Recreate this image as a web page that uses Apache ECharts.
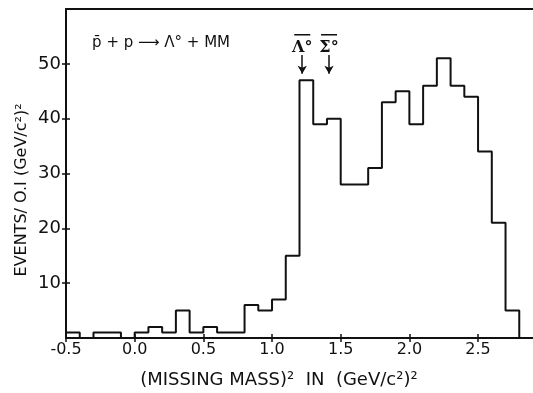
<!DOCTYPE html>
<html>
<head>
<meta charset="utf-8">
<script src="https://cdn.jsdelivr.net/npm/echarts@6/dist/echarts.min.js"></script>
<style>
html,body{margin:0;padding:0;background:#fff;}
#c{width:533px;height:393px;}
</style>
</head>
<body>
<div id="c"></div>
<script>
// ---- data ----
const binWidth = 0.1;
const binStart = [-0.5,-0.4,-0.3,-0.2,-0.1,0.0,0.1,0.2,0.3,0.4,0.5,0.6,0.7,0.8,0.9,1.0,1.1,1.2,1.3,1.4,1.5,1.6,1.7,1.8,1.9,2.0,2.1,2.2,2.3,2.4,2.5,2.6,2.7];
const counts   = [1,0,1,1,0,1,2,1,5,1,2,1,1,6,5,7,15,47,39,40,28,28,31,43,45,39,46,51,46,44,34,21,5];
const xTicks = [-0.5,0.0,0.5,1.0,1.5,2.0,2.5];
const yTicks = [10,20,30,40,50];
const markerNames = ['\u039b\u00b0','\u03a3\u00b0'];
const markerX = [1.22,1.415];

// ---- build ----
const stepData = [[binStart[0],0]];
binStart.forEach((x,i)=>stepData.push([x,counts[i]]));
stepData.push([+(binStart[binStart.length-1]+binWidth).toFixed(2),0]);

const chart = echarts.init(document.getElementById('c'), null, {renderer:'canvas'});
const FONT = 'DejaVu Sans';
const xCommon = {type:'value', min:-0.5, max:2.9, splitLine:{show:false}};
const yCommon = {type:'value', min:0, max:60, interval:10, splitLine:{show:false}};
const tickStyle = {color:'#111', width:1.5};

const option = {
  backgroundColor:'#fff',
  animation:false,
  grid:{left:66, top:9, right:0, bottom:55, show:false},
  xAxis:[
    Object.assign({}, xCommon, {
      position:'bottom',
      axisLine:{show:true, onZero:false, lineStyle:{color:'#111', width:2}},
      axisTick:{show:true, length:4, customValues:xTicks, lineStyle:tickStyle},
      axisLabel:{show:true, margin:4, color:'#111', fontFamily:FONT, fontSize:16,
        customValues:xTicks, formatter:v=>v.toFixed(1)}
    }),
    Object.assign({}, xCommon, {
      position:'bottom',
      axisLine:{show:false, onZero:false},
      axisTick:{show:true, inside:true, length:4, customValues:xTicks, lineStyle:tickStyle},
      axisLabel:{show:false}
    }),
    Object.assign({}, xCommon, {
      position:'top',
      axisLine:{show:true, onZero:false, lineStyle:{color:'#111', width:2}},
      axisTick:{show:false},
      axisLabel:{show:false}
    })
  ],
  yAxis:[
    Object.assign({}, yCommon, {
      position:'left',
      axisLine:{show:true, onZero:false, lineStyle:{color:'#111', width:2}},
      axisTick:{show:true, length:4, customValues:yTicks, lineStyle:tickStyle},
      axisLabel:{show:true, margin:5, color:'#111', fontFamily:FONT, fontSize:18,
        customValues:yTicks, formatter:v=>String(v)}
    }),
    Object.assign({}, yCommon, {
      position:'left',
      axisLine:{show:false, onZero:false},
      axisTick:{show:true, inside:true, length:4, customValues:yTicks, lineStyle:tickStyle},
      axisLabel:{show:false}
    })
  ],
  series:[{
    type:'line',
    xAxisIndex:0, yAxisIndex:0,
    step:'end',
    data:stepData,
    showSymbol:false,
    symbol:'none',
    lineStyle:{color:'#111', width:2},
    markLine:{
      silent:true,
      symbol:['none','arrow'],
      symbolSize:[7,8],
      label:{show:false},
      lineStyle:{color:'#111', width:1.5, type:'solid'},
      data: markerX.map(x=>[{coord:[x,51.6]},{coord:[x,48.2]}])
    }
  }]
};
chart.setOption(option);

// ---- annotations placed from data coordinates ----
const P = (x,y)=>chart.convertToPixel({seriesIndex:0},[x,y]);
const g = [];
const rp = P(-0.31,53.8);
g.push({type:'text', x:rp[0], y:rp[1], style:{text:'p\u0304 + p \u27f6 \u039b\u00b0 + MM', font:'15px "DejaVu Sans"', fill:'#111', textAlign:'left', textVerticalAlign:'middle'}});
markerNames.forEach((name,i)=>{
  const lp = P(markerX[i],53.0);
  g.push({type:'text', x:lp[0], y:lp[1], style:{text:name, font:'bold 16px "DejaVu Serif"', fill:'#111', textAlign:'center', textVerticalAlign:'middle'}});
  const op = P(markerX[i],55.3);
  g.push({type:'line', shape:{x1:op[0]-8, y1:op[1], x2:op[0]+8, y2:op[1]}, style:{stroke:'#111', lineWidth:1.5}});
});
// axis titles
const xt = P(1.05,0);
g.push({type:'text', x:xt[0], y:380, style:{text:'(MISSING MASS)\u00b2  IN  (GeV/c\u00b2)\u00b2', font:'18px "DejaVu Sans"', fill:'#111', textAlign:'center', textVerticalAlign:'middle'}});
const yt = P(-0.5,27);
g.push({type:'text', x:22, y:yt[1], rotation:Math.PI/2, style:{text:'EVENTS/ O.I (GeV/c\u00b2)\u00b2', font:'16px "DejaVu Sans"', fill:'#111', textAlign:'center', textVerticalAlign:'middle'}});
chart.setOption({graphic:g});
</script>
</body>
</html>
